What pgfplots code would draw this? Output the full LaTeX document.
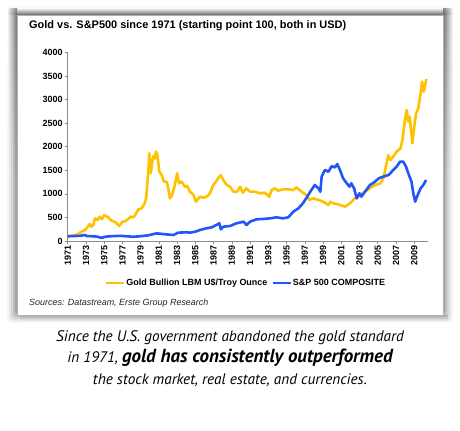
\documentclass[border=0pt]{standalone}
\usepackage{pgfplots}
\pgfplotsset{compat=1.18}
\usetikzlibrary{fadings}
\usepackage{fontspec}
\setmainfont{Liberation Sans}
\newfontfamily\capfont{PT Sans}
\definecolor{goldc}{RGB}{255,194,0}
\definecolor{spblue}{RGB}{34,85,250}
\definecolor{axgray}{RGB}{140,140,140}
\pgfplotstableread{
x y
1971.0 100
1971.5 115
1972.0 130
1972.35 177
1972.9 233
1973.2 300
1973.4 360
1973.6 304
1973.8 340
1974.0 480
1974.25 445
1974.5 516
1974.75 460
1975.0 551
1975.2 530
1975.45 502
1975.8 431
1976.0 420
1976.3 389
1976.65 318
1977.0 410
1977.3 420
1977.5 445
1977.9 516
1978.2 500
1978.4 551
1978.75 672
1979.1 693
1979.4 780
1979.6 905
1979.7 1152
1979.85 1500
1979.95 1860
1980.1 1436
1980.3 1718
1980.4 1803
1980.55 1750
1980.7 1895
1980.85 1800
1981.05 1470
1981.3 1400
1981.55 1258
1981.85 1258
1982.0 1150
1982.2 905
1982.45 975
1982.75 1188
1983.0 1436
1983.2 1223
1983.5 1260
1983.85 1152
1984.1 1170
1984.4 1046
1984.8 975
1985.07 834
1985.5 940
1985.8 920
1986.05 928
1986.3 950
1986.6 1011
1986.97 1188
1987.26 1258
1987.5 1329
1987.78 1400
1988.06 1294
1988.43 1188
1988.8 1152
1989.16 1046
1989.6 1046
1989.9 1152
1990.2 1025
1990.6 1117
1991.0 1046
1991.5 1046
1992.1 1011
1992.6 1025
1993.1 940
1993.37 1082
1993.7 1117
1994.1 1068
1994.6 1096
1995.2 1096
1995.7 1082
1996.1 1138
1996.4 1082
1996.9 1011
1997.2 975
1997.5 870
1997.9 905
1998.5 870
1999.0 834
1999.6 764
1999.8 834
2000.1 800
2000.9 764
2001.4 728
2001.95 800
2002.5 905
2003.0 975
2003.6 1046
2004.15 1117
2004.7 1188
2005.3 1223
2005.6 1329
2005.9 1576
2006.15 1824
2006.4 1718
2006.7 1789
2007.07 1895
2007.5 1966
2007.7 2142
2007.98 2566
2008.17 2778
2008.35 2530
2008.5 2636
2008.8 2072
2009.0 2424
2009.2 2707
2009.45 2813
2009.7 3130
2009.85 3379
2010.05 3165
2010.3 3415
2010.4 3400
}\golddata
\pgfplotstableread{
x y
1971.0 100
1972.35 110
1972.9 127
1973.1 105
1973.8 100
1974.3 90
1974.7 65
1975.1 90
1975.6 100
1976.7 110
1977.5 100
1978.2 90
1978.9 100
1979.8 120
1980.76 162
1981.85 140
1982.6 127
1983.1 177
1984.0 184
1984.4 177
1985.0 198
1985.5 233
1986.2 269
1986.8 290
1987.3 340
1987.63 375
1987.8 247
1988.06 304
1988.8 318
1989.5 375
1990.3 410
1990.6 340
1991.0 410
1991.7 460
1992.4 467
1993.2 481
1993.9 502
1994.6 481
1995.2 502
1995.74 622
1996.3 693
1996.8 800
1997.3 950
1997.6 1046
1998.1 1188
1998.5 1117
1998.7 1045
1998.85 1365
1999.2 1506
1999.6 1470
1999.95 1590
2000.3 1560
2000.56 1633
2000.86 1506
2001.2 1329
2001.6 1223
2001.9 1152
2002.1 1223
2002.4 1117
2002.7 905
2003.0 1011
2003.2 940
2003.6 1046
2004.15 1188
2004.7 1258
2005.1 1329
2005.6 1365
2006.2 1400
2006.7 1506
2007.07 1576
2007.44 1682
2007.8 1682
2008.1 1576
2008.35 1436
2008.7 1258
2008.9 1011
2009.1 834
2009.3 940
2009.7 1117
2010.0 1188
2010.3 1294
}\spdata
\begin{document}
\begin{tikzpicture}
\begin{scope}[x=1bp,y=1bp]
\path[use as bounding box] (0,0) rectangle (460,430);
% shadow layers
\foreach \d/\o in {10/0.04,8/0.06,6/0.08,4/0.11,2/0.15}{
  \fill[black,opacity=\o,rounded corners=4bp] (17-\d,115-\d+2) rectangle (443+\d,415+\d-1);
}
% top curl shadow
\shade[top color=white,bottom color=black!65,opacity=0.8] (9,415) rectangle (451,422);
% side shadows fading downwards
\shade[left color=white,right color=black!60,path fading=south,opacity=0.8] (7,250) rectangle (17,421);
\shade[right color=white,left color=black!60,path fading=south,opacity=0.8] (443,250) rectangle (453,421);
\shade[top color=black!40,bottom color=white,opacity=0.6] (20,108) rectangle (448,115);
\fill[white] (17,115) rectangle (443,415);
\draw[gray!60,line width=0.6bp] (17,115) rectangle (443,415);
\node[anchor=west,inner sep=0pt,font=\fontsize{11}{13}\selectfont\bfseries] at (29,404) {Gold vs. S\&P500 since 1971 (starting point 100, both in USD)};
\node[anchor=west,inner sep=0pt,font=\fontsize{9}{11}\selectfont\itshape,text=black!85] at (29,127.3) {Sources: Datastream, Erste Group Research};
\node[font=\capfont\itshape\fontsize{15.3}{17}\selectfont,inner sep=0pt] at (230,92) {Since the U.S. government abandoned the gold standard};
\node[font=\capfont\itshape\fontsize{15.3}{17}\selectfont,inner sep=0pt] at (230,72) {in 1971, {\bfseries\fontsize{19}{21}\selectfont gold has consistently outperformed}};
\node[font=\capfont\itshape\fontsize{15.3}{17}\selectfont,inner sep=0pt] at (230,50) {the stock market, real estate, and currencies.};
\end{scope}
\begin{axis}[
  at={(67.7bp,189bp)}, anchor=origin,
  scale only axis, width=360.2bp, height=188.6bp,
  xmin=1971, xmax=2010.5, ymin=0, ymax=4000,
  axis x line*=bottom, axis y line*=left,
  axis line style={-,draw=axgray,line width=0.6bp},
  tick style={draw=axgray,line width=0.6bp},
  tick align=outside, major tick length=3bp,
  xtick={1971,1973,...,2009},
  ytick={0,500,...,4000},
  /pgf/number format/1000 sep={},
  /pgf/number format/assume math mode=true,
  ticklabel style={font=\fontsize{9}{10}\selectfont\bfseries},
  xticklabel style={rotate=90,anchor=east,inner sep=1.5bp},
  yticklabel style={inner sep=2bp},
  clip=false,
  legend style={at={(0.4936,-0.2227)},anchor=center,draw=none,fill=none,
    font=\fontsize{9}{10}\selectfont\bfseries,
    legend columns=2, nodes={inner sep=1bp},
    /tikz/every even column/.append style={column sep=3bp}},
  legend image code/.code={\draw[#1] (0bp,0bp) -- (18bp,0bp);},
]
\addplot[goldc, line width=2.6bp, line join=round] table[x=x,y=y] {\golddata};
\addlegendentry{Gold Bullion LBM U\$/Troy Ounce}
\addplot[spblue, line width=2.6bp, line join=round] table[x=x,y=y] {\spdata};
\addlegendentry{S\&P 500 COMPOSITE}
\end{axis}
\end{tikzpicture}
\end{document}
